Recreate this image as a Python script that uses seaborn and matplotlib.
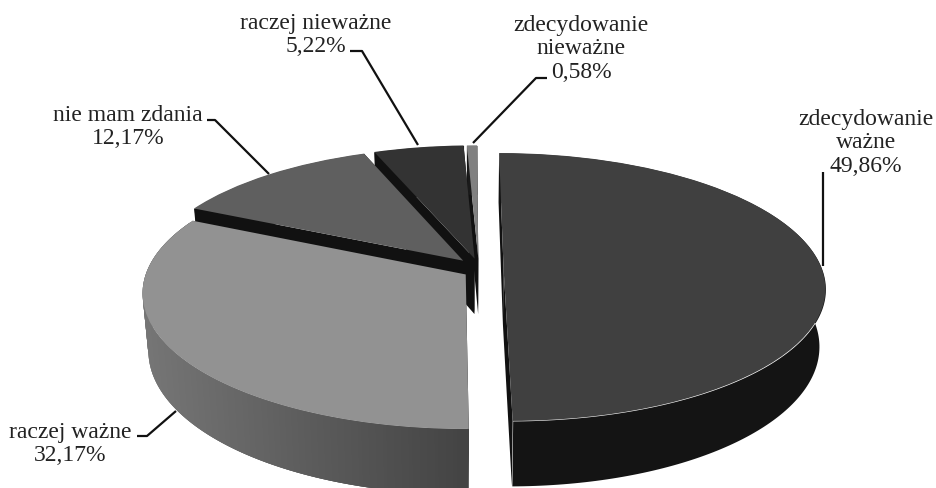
import numpy as np
import matplotlib
matplotlib.use("Agg")
import matplotlib.pyplot as plt
import seaborn as sns
from matplotlib.collections import PolyCollection
from matplotlib.transforms import Transform

# Survey answers, clockwise from twelve o'clock
labels = ["zdecydowanie\nważne", "raczej ważne", "nie mam zdania",
          "raczej nieważne", "zdecydowanie\nnieważne"]
shares = [49.86, 32.17, 12.17, 5.22, 0.58]
value_texts = ["49,86%", "32,17%", "12,17%", "5,22%", "0,58%"]

# Scene geometry of the tilted disc, in figure pixels
CX, CY, RX, RY, PERSP, DEPTH, TAPER = 467.0, 269.5, 318.0, 131.4, 0.138, 56.0, 0.018

# Per-slice styling and layout
top_colors = ["#404040", "#929292", "#5f5f5f", "#333333", "#808080"]
rim_colors = ["#141414", None, "#111111", "#111111", "#1a1a1a"]
shifts = [(0.115, 0.0), (-0.004, -0.045), (-0.012, 0.06), (0.024, 0.076), (0.036, 0.076)]
draw_order = [4, 3, 2, 0, 1]
label_anchor = [(866, 143), (70, 444), (128, 127), (316, 35), (581, 49)]
leaders = [
    [(823, 173), (823, 267)],
    [(137, 437), (147, 437), (176, 412)],
    [(207, 121), (215, 121), (269, 175)],
    [(350, 52), (362, 52), (418, 146)],
    [(547, 79), (536, 79), (473, 144)],
]


def project(x, y, z=0.0):
    """Map unit-disc coordinates plus extrusion z to pixel coordinates."""
    x, y = np.asarray(x, float), np.asarray(y, float)
    k = 1.0 / (1.0 + PERSP * y)
    return CX + RX * x * k * (1.0 - TAPER * z), CY - RY * y * k + DEPTH * z * k


class DiscProjection(Transform):
    input_dims = output_dims = 2
    is_affine = False

    def __init__(self, shift):
        super().__init__()
        self.shift = shift

    def transform_non_affine(self, values):
        values = np.asarray(values, float)
        px, py = project(values[:, 0] + self.shift[0], values[:, 1] + self.shift[1])
        return np.column_stack([px, py])


sns.set_theme(style="white", rc={"figure.facecolor": "white", "axes.facecolor": "white"})
plt.rcParams["font.family"] = ["Liberation Serif", "DejaVu Serif"]

fig = plt.figure(figsize=(9.37, 4.89), dpi=100)
ax = fig.add_axes([0, 0, 1, 1])

wedges, _ = ax.pie(shares, colors=top_colors, startangle=90, counterclock=False,
                   wedgeprops={"linewidth": 0})
ax.set_aspect("auto")
ax.set_xlim(0, 937)
ax.set_ylim(489, 0)
ax.axis("off")

rim_gradient = sns.blend_palette(["#767676", "#434343"], as_cmap=True)

for order, idx in enumerate(draw_order):
    wedge = wedges[idx]
    sx, sy = shifts[idx]
    base_z = 2 * order + 1
    wedge.set_zorder(base_z + 1)
    wedge.set_transform(DiscProjection(shifts[idx]) + ax.transData)

    angles = np.radians(np.linspace(wedge.theta1, wedge.theta2, 200))
    ux, uy = np.cos(angles) + sx, np.sin(angles) + sy
    tx, ty = project(ux, uy, 0.0)
    bx, by = project(ux, uy, 1.0)

    # Radial side faces, seen in the gaps between the slices
    faces = []
    cx0, cy0 = project(sx, sy, 0.0)
    cx1, cy1 = project(sx, sy, 1.0)
    for end in (0, -1):
        faces.append([(float(cx0), float(cy0)), (tx[end], ty[end]),
                      (bx[end], by[end]), (float(cx1), float(cy1))])
    ax.add_collection(PolyCollection(faces, facecolors="#111111", linewidths=0, zorder=base_z))

    # Outer rim: one solid band, or overlapping strips where it is shaded
    if rim_colors[idx] is None:
        strips = [[(tx[i], ty[i]), (tx[i + 3], ty[i + 3]), (bx[i + 3], by[i + 3]), (bx[i], by[i])]
                  for i in range(len(angles) - 3)]
        rim = PolyCollection(strips, cmap=rim_gradient, linewidths=0, zorder=base_z)
        rim.set_array(tx[:-3])
        rim.set_clim(140, 467)
    else:
        band = np.column_stack([np.r_[tx, bx[::-1]], np.r_[ty, by[::-1]]])
        rim = PolyCollection([band], facecolors=rim_colors[idx], linewidths=0, zorder=base_z)
    ax.add_collection(rim)

# Category labels with their leader lines
for label, value, anchor, leader in zip(labels, value_texts, label_anchor, leaders):
    ax.text(anchor[0], anchor[1], f"{label}\n{value}", ha="center", va="center",
            fontsize=17, color="#222222", linespacing=1.14, zorder=20)
    xs, ys = zip(*leader)
    ax.plot(xs, ys, color="#111111", lw=1.6, solid_capstyle="butt", zorder=20)

fig.savefig("out.png", dpi=100, facecolor="white")
